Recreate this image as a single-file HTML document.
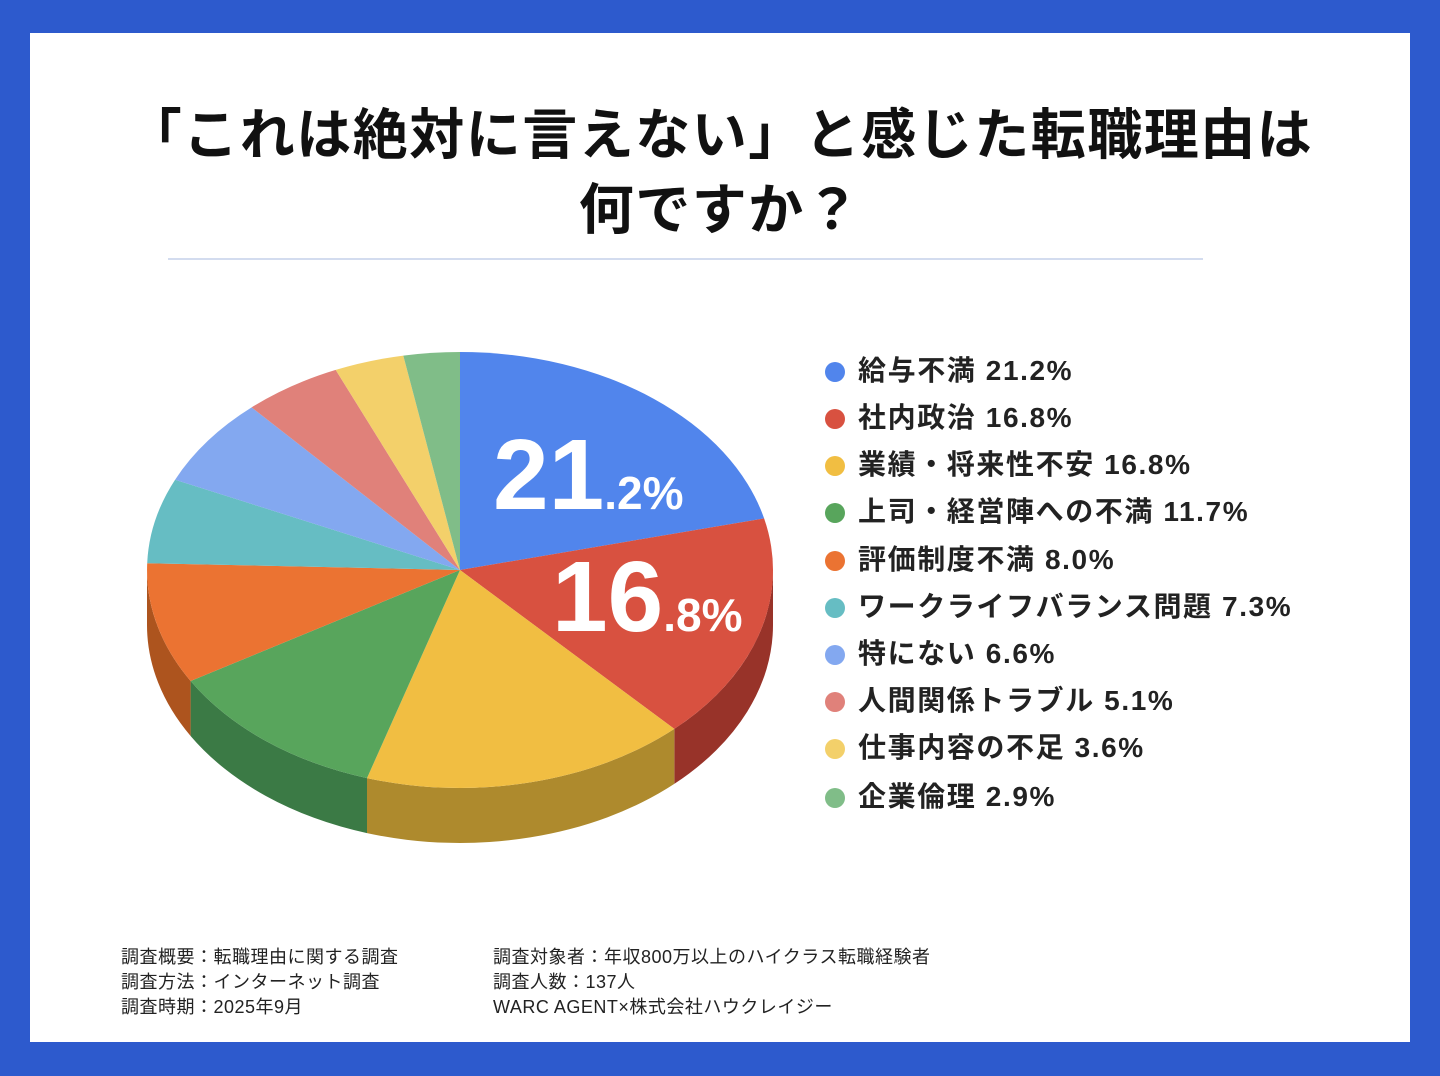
<!DOCTYPE html>
<html><head><meta charset="utf-8"><style>
body{margin:0;width:1440px;height:1076px;background:#2d5acd;font-family:"Liberation Sans","Noto Sans CJK JP",sans-serif;overflow:hidden}
.card{position:absolute;left:30px;top:33px;width:1380px;height:1009px;background:#fff}
.t{position:absolute;left:0;width:1440px;text-align:center;font-weight:bold;font-size:55px;color:#111;letter-spacing:1.5px}
.hr{position:absolute;left:168px;top:258px;width:1035px;height:2px;background:#d3dcef}
.lg{position:absolute;left:825px;font-size:28px;font-weight:bold;color:#222;white-space:nowrap;letter-spacing:1.6px}
.lg i{display:inline-block;width:20px;height:20px;border-radius:50%;margin-right:13px;vertical-align:-2px}
.ft{position:absolute;font-size:18px;color:#222;line-height:25px;letter-spacing:0.5px}
</style></head><body>
<div class="card"></div>
<div class="t" style="top:90px">「これは絶対に言えない」と感じた転職理由は</div>
<div class="t" style="top:165px">何ですか？</div>
<div class="hr"></div>
<svg width="1440" height="1076" style="position:absolute;left:0;top:0">
<g>
<path d="M773,570 A313,218 0 0 1 674.3,728.9 L674.3,783.9 A313,218 0 0 0 773,625 Z" fill="#983329"/>
<path d="M674.3,728.9 A313,218 0 0 1 367,778.1 L367,833.1 A313,218 0 0 0 674.3,783.9 Z" fill="#ae8a2d"/>
<path d="M367,778.1 A313,218 0 0 1 190.6,681 L190.6,736 A313,218 0 0 0 367,833.1 Z" fill="#3b7a45"/>
<path d="M190.6,681 A313,218 0 0 1 147,570 L147,625 A313,218 0 0 0 190.6,736 Z" fill="#ad541e"/>
</g>
<path d="M460,570 L460,352 A313,218 0 0 1 764.1,518.4 Z" fill="#5185ec"/>
<path d="M460,570 L764.1,518.4 A313,218 0 0 1 674.3,728.9 Z" fill="#d85140"/>
<path d="M460,570 L674.3,728.9 A313,218 0 0 1 367,778.1 Z" fill="#f1be42"/>
<path d="M460,570 L367,778.1 A313,218 0 0 1 190.6,681 Z" fill="#58a55c"/>
<path d="M460,570 L190.6,681 A313,218 0 0 1 147.2,563.2 Z" fill="#eb7332"/>
<path d="M460,570 L147.2,563.2 A313,218 0 0 1 175.1,479.7 Z" fill="#66bdc3"/>
<path d="M460,570 L175.1,479.7 A313,218 0 0 1 251.6,407.4 Z" fill="#83a8f0"/>
<path d="M460,570 L251.6,407.4 A313,218 0 0 1 335.7,369.9 Z" fill="#e0817a"/>
<path d="M460,570 L335.7,369.9 A313,218 0 0 1 403.3,355.6 Z" fill="#f3d06a"/>
<path d="M460,570 L403.3,355.6 A313,218 0 0 1 460,352 Z" fill="#80bd88"/>
<text x="493" y="509" fill="#fff" font-weight="bold" font-size="100" font-family="Liberation Sans,sans-serif">21<tspan font-size="46">.2%</tspan></text>
<text x="552" y="631" fill="#fff" font-weight="bold" font-size="100" font-family="Liberation Sans,sans-serif">16<tspan font-size="46">.8%</tspan></text>
</svg>
<div class="lg" style="top:349px"><i style="background:#5185ec"></i>給与不満 21.2%</div>
<div class="lg" style="top:396px"><i style="background:#d85140"></i>社内政治 16.8%</div>
<div class="lg" style="top:443px"><i style="background:#f1be42"></i>業績・将来性不安 16.8%</div>
<div class="lg" style="top:490px"><i style="background:#58a55c"></i>上司・経営陣への不満 11.7%</div>
<div class="lg" style="top:538px"><i style="background:#eb7332"></i>評価制度不満 8.0%</div>
<div class="lg" style="top:585px"><i style="background:#66bdc3"></i>ワークライフバランス問題 7.3%</div>
<div class="lg" style="top:632px"><i style="background:#83a8f0"></i>特にない 6.6%</div>
<div class="lg" style="top:679px"><i style="background:#e0817a"></i>人間関係トラブル 5.1%</div>
<div class="lg" style="top:726px"><i style="background:#f3d06a"></i>仕事内容の不足 3.6%</div>
<div class="lg" style="top:775px"><i style="background:#80bd88"></i>企業倫理 2.9%</div>
<div class="ft" style="left:121px;top:945px">調査概要：転職理由に関する調査<br>調査方法：インターネット調査<br>調査時期：2025年9月</div>
<div class="ft" style="left:493px;top:945px">調査対象者：年収800万以上のハイクラス転職経験者<br>調査人数：137人<br>WARC AGENT×株式会社ハウクレイジー</div>
</body></html>
